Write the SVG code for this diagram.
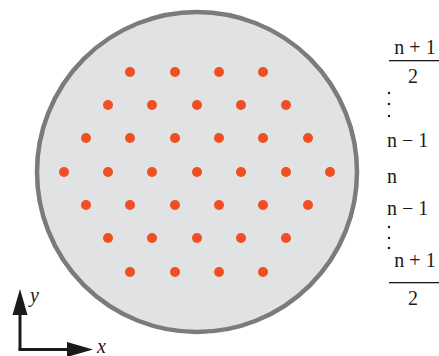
<svg xmlns="http://www.w3.org/2000/svg" width="439" height="356" viewBox="0 0 439 356">
<style>
.d{fill:#f04e23}
.t{font-family:"Liberation Serif","Times New Roman",serif;font-size:20px;fill:#1a1a1a}
.i{font-style:italic}
.v{fill:#1a1a1a}
.ax{stroke:#1a1a1a;stroke-width:3;fill:none}
</style>
<g id="disc">
<circle cx="197" cy="172" r="160" fill="#e1e2e4" stroke="#7b7b7d" stroke-width="4.5"/>
</g>
<g id="dots">
<circle class="d" cx="130" cy="72" r="5"/><circle class="d" cx="175" cy="72" r="5"/><circle class="d" cx="219" cy="72" r="5"/><circle class="d" cx="263" cy="72" r="5"/>
<circle class="d" cx="108" cy="105" r="5"/><circle class="d" cx="152" cy="105" r="5"/><circle class="d" cx="197" cy="105" r="5"/><circle class="d" cx="241" cy="105" r="5"/><circle class="d" cx="286" cy="105" r="5"/>
<circle class="d" cx="86" cy="138" r="5"/><circle class="d" cx="130" cy="138" r="5"/><circle class="d" cx="175" cy="138" r="5"/><circle class="d" cx="219" cy="138" r="5"/><circle class="d" cx="263" cy="138" r="5"/><circle class="d" cx="308" cy="138" r="5"/>
<circle class="d" cx="64" cy="172" r="5"/><circle class="d" cx="108" cy="172" r="5"/><circle class="d" cx="152" cy="172" r="5"/><circle class="d" cx="197" cy="172" r="5"/><circle class="d" cx="241" cy="172" r="5"/><circle class="d" cx="286" cy="172" r="5"/><circle class="d" cx="330" cy="172" r="5"/>
<circle class="d" cx="86" cy="205" r="5"/><circle class="d" cx="130" cy="205" r="5"/><circle class="d" cx="175" cy="205" r="5"/><circle class="d" cx="219" cy="205" r="5"/><circle class="d" cx="263" cy="205" r="5"/><circle class="d" cx="308" cy="205" r="5"/>
<circle class="d" cx="108" cy="238" r="5"/><circle class="d" cx="152" cy="238" r="5"/><circle class="d" cx="197" cy="238" r="5"/><circle class="d" cx="241" cy="238" r="5"/><circle class="d" cx="286" cy="238" r="5"/>
<circle class="d" cx="130" cy="272" r="5"/><circle class="d" cx="175" cy="272" r="5"/><circle class="d" cx="219" cy="272" r="5"/><circle class="d" cx="263" cy="272" r="5"/>
</g>
<g id="labels">
<text class="t" x="415" y="54" text-anchor="middle">n + 1</text>
<rect x="389" y="60" width="50" height="1.3" fill="#1a1a1a"/>
<text class="t" x="413" y="83" text-anchor="middle">2</text>
<circle class="v" cx="389" cy="93" r="1.2"/><circle class="v" cx="389" cy="104" r="1.2"/><circle class="v" cx="389" cy="116" r="1.2"/>
<text class="t" x="387" y="147">n − 1</text>
<text class="t" x="387" y="183">n</text>
<text class="t" x="387" y="215">n − 1</text>
<circle class="v" cx="389" cy="227" r="1.2"/><circle class="v" cx="389" cy="238" r="1.2"/><circle class="v" cx="389" cy="248" r="1.2"/>
<text class="t" x="415" y="267" text-anchor="middle">n + 1</text>
<rect x="389" y="282" width="50" height="1.3" fill="#1a1a1a"/>
<text class="t" x="413" y="305" text-anchor="middle">2</text>
</g>
<g id="axes">
<path class="ax" d="M20,349.5 V312"/>
<path class="ax" d="M18.5,349.5 H70"/>
<path d="M20,289 L27.5,315 L12.5,315 z" fill="#1a1a1a"/>
<path d="M93,349.5 L67,342 L67,357 z" fill="#1a1a1a"/>
<text class="t i" x="30" y="302" font-size="19">y</text>
<text class="t i" x="97" y="353" font-size="19">x</text>
</g>
</svg>
